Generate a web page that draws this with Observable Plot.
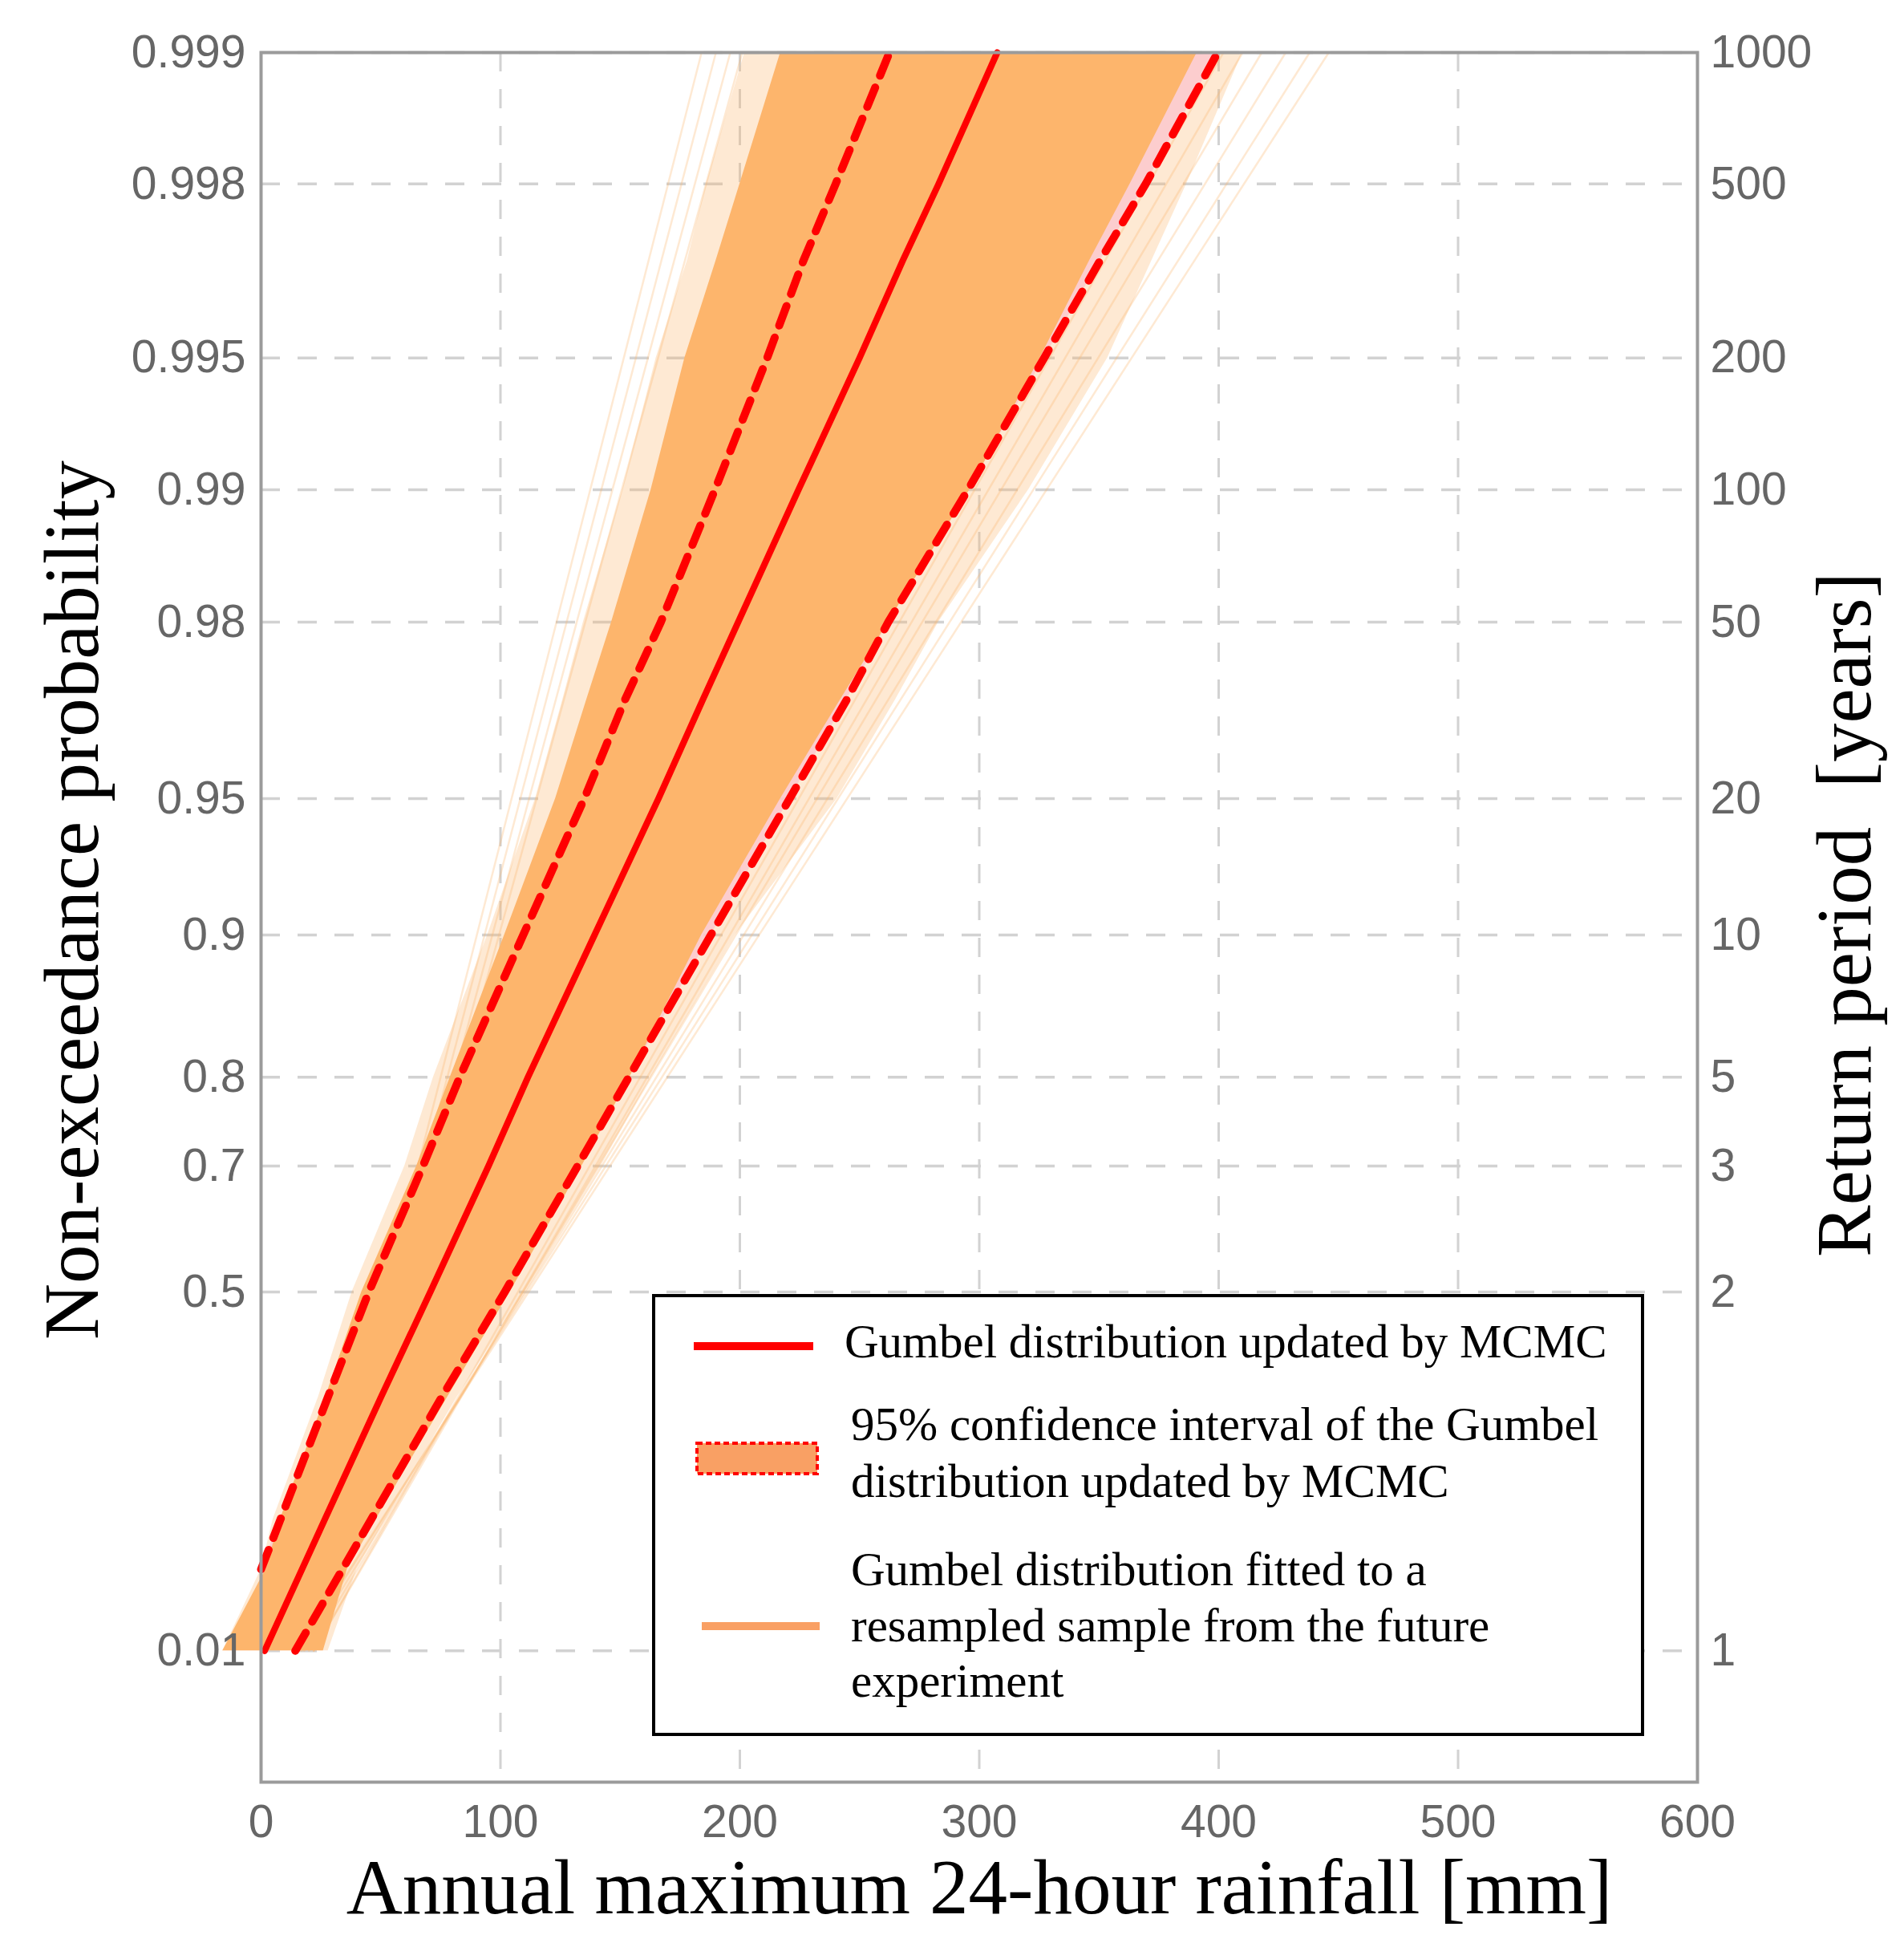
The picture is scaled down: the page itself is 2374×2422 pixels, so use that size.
<!DOCTYPE html>
<html>
<head>
<meta charset="utf-8">
<script src="https://cdn.jsdelivr.net/npm/d3@7"></script>
<script src="https://cdn.jsdelivr.net/npm/@observablehq/plot@0.6"></script>
<style>
html, body { margin: 0; padding: 0; background: #ffffff; }
#chart { width: 2374px; height: 2422px; overflow: hidden; }
</style>
</head>
<body>
<div id="chart"></div>
<script>
// ---------- data ----------
// probability levels (non-exceedance) at which the curves were read
const probLevels   = [0.01, 0.05, 0.1, 0.3, 0.5, 0.7, 0.8, 0.9, 0.95, 0.97, 0.98, 0.99, 0.995, 0.997, 0.998, 0.999];
// Gumbel distribution updated by MCMC [mm]
const mcmcMedian   = [1.5, 17.1, 26.6, 50.2, 70.7, 95, 111.5, 139.3, 166, 184.5, 199.3, 224.5, 250, 268, 283, 307.5];
// 95% confidence interval bounds [mm] (lower bound starts at the left frame)
const ciLower      = [null, 0, 8.1, 28, 45, 67.6, 83, 109.5, 135, 152, 167, 189.6, 211.4, 226.5, 240, 262.5];
const ciUpper      = [14.3, 34, 46, 75.6, 101.8, 132.2, 153.6, 187.9, 220.8, 244.6, 262, 295.3, 327.1, 350.4, 369.5, 399.6];
// dense envelope of the resampled Gumbel fits [mm]
const bandLeft     = [-16, 2, 8, 27, 42, 65, 79, 101.7, 123, 136, 146.4, 162.9, 177, 190, 200, 217];
const bandRight    = [26, 36, 48, 78, 104, 134, 154, 184, 217, 242, 262, 296, 325.4, 346, 363, 391];
// lighter outer envelope of the resampled fits [mm]
const outerLeft    = [-16, 0, 5, 24, 38, 60, 72, 94.6, 114.6, 126, 134.6, 151, 165, 178, 186, 202];
const outerRight   = [28, 40, 52, 82, 110, 142, 163, 198, 240.6, 265, 283, 320.6, 353.6, 372, 386.6, 410];
// individual outlying resampled fits: value at p = 0.01 and at p = 0.999 [mm]
const faintBottom  = [14, 15, 16, 17, 22, 22, 20, 18, 16, 15];
const faintTop     = [184, 190, 196, 201, 402, 410, 418, 428, 438, 446];

// axis ticks
const xTicks          = [0, 100, 200, 300, 400, 500, 600];
const xGridTicks      = [100, 200, 300, 400, 500];
const probTicks       = [0.01, 0.5, 0.7, 0.8, 0.9, 0.95, 0.98, 0.99, 0.995, 0.998, 0.999];
const probTickLabels  = ["0.01", "0.5", "0.7", "0.8", "0.9", "0.95", "0.98", "0.99", "0.995", "0.998", "0.999"];
const returnTickLabels= ["1", "2", "3", "5", "10", "20", "50", "100", "200", "500", "1000"];
const probDomain      = [0.0001, 0.999];

// ---------- Gumbel probability paper ----------
const rv = p => -Math.log(-Math.log(p));   // reduced variate
const yTicks = probTicks.map(rv);
const leftLabel = new Map(yTicks.map((t, i) => [t, probTickLabels[i]]));
const rightLabel = new Map(yTicks.map((t, i) => [t, returnTickLabels[i]]));

const medianRows = probLevels.map((p, i) => ({y: rv(p), x: mcmcMedian[i]}));
const lowerRows  = probLevels.map((p, i) => ({y: rv(p), x: ciLower[i]})).filter(d => d.x != null);
const upperRows  = probLevels.map((p, i) => ({y: rv(p), x: ciUpper[i]}));
const ciRows     = probLevels.map((p, i) => ({y: rv(p), x1: ciLower[i], x2: ciUpper[i]})).filter(d => d.x1 != null);
const bandRows   = probLevels.map((p, i) => ({y: rv(p), x1: bandLeft[i], x2: bandRight[i]}));
const outerRows  = probLevels.map((p, i) => ({y: rv(p), x1: outerLeft[i], x2: outerRight[i]}));
const faintRows  = faintBottom.flatMap((b, i) => [
  {id: i, y: rv(0.01), x: b},
  {id: i, y: rv(0.999), x: faintTop[i]}
]);

const RED = "#ff0000";
const ORANGE = "#fdb56c";
const SALMON = "#f9a064";
const TICK_FONT = "'Liberation Sans', Arial, Helvetica, sans-serif";
const SERIF = "'Liberation Serif', 'Times New Roman', Times, serif";

const plot = Plot.plot({
  width: 2374,
  height: 2422,
  marginLeft: 325,
  marginRight: 258,
  marginTop: 65,
  marginBottom: 201,
  style: {background: "#ffffff", fontFamily: TICK_FONT, overflow: "visible"},
  x: {domain: [0, 600]},
  y: {domain: probDomain.map(rv)},
  marks: [
    Plot.gridX({ticks: xGridTicks, stroke: "#d2d2d2", strokeOpacity: 1, strokeWidth: 3, strokeDasharray: "24,22"}),
    Plot.gridY({ticks: yTicks, stroke: "#d2d2d2", strokeOpacity: 1, strokeWidth: 3.5, strokeDasharray: "24,22"}),
    Plot.line(faintRows, {x: "x", y: "y", z: "id", stroke: ORANGE, strokeOpacity: 0.3, strokeWidth: 2.5}),
    Plot.areaX(outerRows, {y: "y", x1: "x1", x2: "x2", fill: ORANGE, fillOpacity: 0.3}),
    Plot.areaX(ciRows, {y: "y", x1: "x1", x2: "x2", fill: "#fbc8cc", fillOpacity: 0.85}),
    Plot.areaX(bandRows, {y: "y", x1: "x1", x2: "x2", fill: ORANGE, fillOpacity: 1}),
    Plot.line(lowerRows, {x: "x", y: "y", stroke: RED, strokeWidth: 10, strokeDasharray: "26,16"}),
    Plot.line(upperRows, {x: "x", y: "y", stroke: RED, strokeWidth: 10, strokeDasharray: "26,16"}),
    Plot.line(medianRows, {x: "x", y: "y", stroke: RED, strokeWidth: 8}),
    Plot.frame({stroke: "#9b9b9b", strokeWidth: 4}),
    Plot.axisX({ticks: xTicks, tickSize: 0, tickPadding: 28, fontSize: 57, fontFamily: TICK_FONT, fill: "#666666", label: null}),
    Plot.axisY({anchor: "left", ticks: yTicks, tickFormat: d => leftLabel.get(d), tickSize: 0, tickPadding: 19, fontSize: 57, fontFamily: TICK_FONT, fill: "#666666", label: null}),
    Plot.axisY({anchor: "right", ticks: yTicks, tickFormat: d => rightLabel.get(d), tickSize: 0, tickPadding: 16, fontSize: 57, fontFamily: TICK_FONT, fill: "#666666", label: null})
  ]
});

document.getElementById("chart").appendChild(plot);

// ---------- titles and legend ----------
const svg = d3.select(plot);
const titleSize = 97;

svg.append("text")
  .attr("x", 1221).attr("y", 2385)
  .attr("text-anchor", "middle")
  .attr("font-family", SERIF).attr("font-size", titleSize).attr("fill", "#000")
  .text("Annual maximum 24-hour rainfall [mm]");

svg.append("text")
  .attr("transform", "translate(122,1122) rotate(-90)")
  .attr("text-anchor", "middle")
  .attr("font-family", SERIF).attr("font-size", titleSize).attr("fill", "#000")
  .text("Non-exceedance probability");

svg.append("text")
  .attr("transform", "translate(2332,1140) rotate(-90)")
  .attr("text-anchor", "middle")
  .attr("font-family", SERIF).attr("font-size", titleSize).attr("fill", "#000")
  .text("Return period\u00a0\u00a0[years]");

const lg = svg.append("g")
  .attr("font-family", SERIF).attr("font-size", 59).attr("fill", "#000")
  .attr("text-anchor", "start");
lg.append("rect")
  .attr("x", 815).attr("y", 1615).attr("width", 1233).attr("height", 547)
  .attr("fill", "#ffffff").attr("stroke", "#000").attr("stroke-width", 4);

lg.append("line")
  .attr("x1", 865).attr("x2", 1014).attr("y1", 1678).attr("y2", 1678)
  .attr("stroke", RED).attr("stroke-width", 10);
lg.append("text").attr("x", 1053).attr("y", 1692).text("Gumbel distribution updated by MCMC");

lg.append("rect")
  .attr("x", 869).attr("y", 1799).attr("width", 150).attr("height", 38)
  .attr("fill", SALMON).attr("stroke", RED).attr("stroke-width", 4).attr("stroke-dasharray", "7,4");
lg.append("text").attr("x", 1061).attr("y", 1795).text("95% confidence interval of the Gumbel");
lg.append("text").attr("x", 1061).attr("y", 1866).text("distribution updated by MCMC");

lg.append("line")
  .attr("x1", 875).attr("x2", 1022).attr("y1", 2027).attr("y2", 2027)
  .attr("stroke", SALMON).attr("stroke-width", 10);
lg.append("text").attr("x", 1061).attr("y", 1976).text("Gumbel distribution fitted to a");
lg.append("text").attr("x", 1061).attr("y", 2046).text("resampled sample from the future");
lg.append("text").attr("x", 1061).attr("y", 2115).text("experiment");
</script>
</body>
</html>
